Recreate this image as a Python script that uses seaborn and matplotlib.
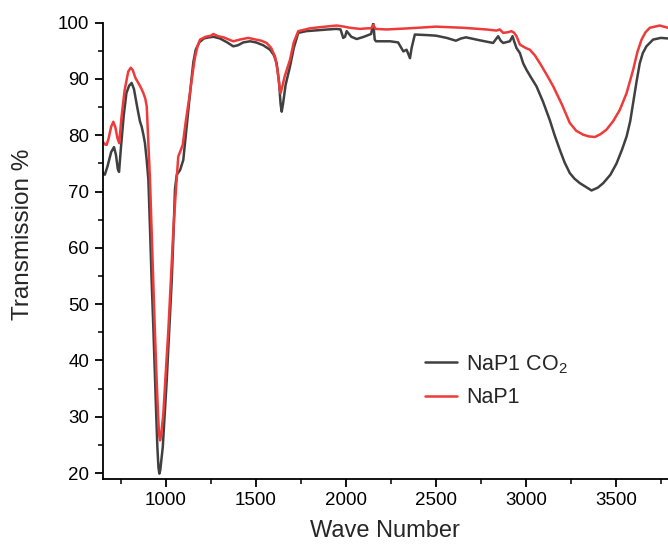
import matplotlib
matplotlib.use("Agg")
import matplotlib.pyplot as plt
from matplotlib.ticker import MultipleLocator
import pandas as pd
import seaborn as sns

# FTIR spectra: wavenumber (cm-1) and transmission (%)
wn_co2 = [650, 660, 675, 695, 711, 722, 732, 739, 750, 765, 780, 795, 809, 822, 840,
          855, 865, 875, 883, 893, 902, 911, 920, 930, 939, 946, 952, 958, 963, 968,
          975, 982, 993, 1004, 1018, 1032, 1041, 1050, 1060, 1078, 1096, 1110, 1124,
          1140, 1152, 1165, 1185, 1210, 1240, 1263, 1300, 1340, 1374, 1400, 1430, 1467,
          1500, 1540, 1578, 1600, 1615, 1628, 1637, 1643, 1650, 1665, 1689, 1710, 1735,
          1780, 1818, 1900, 1948, 1970, 1985, 1995, 2004, 2030, 2060, 2100, 2140, 2152,
          2160, 2167, 2245, 2290, 2319, 2337, 2356, 2365, 2383, 2450, 2500, 2560, 2611,
          2640, 2667, 2740, 2818, 2846, 2860, 2874, 2911, 2926, 2937, 2948, 2967, 2985,
          3004, 3030, 3059, 3095, 3133, 3160, 3189, 3215, 3244, 3270, 3300, 3335, 3365,
          3400, 3430, 3470, 3504, 3535, 3560, 3580, 3596, 3615, 3633, 3650, 3670, 3707,
          3750, 3790]
tr_co2 = [73.3, 73.0, 74.5, 77.0, 77.9, 76.5, 74.0, 73.5, 78.0, 83.5, 87.5, 88.8, 89.3,
          88.2, 85.0, 82.5, 81.5, 80.0, 78.6, 75.5, 72.1, 63.5, 54.3, 45.5, 36.5, 30.0,
          24.6, 21.0, 19.9, 20.5, 22.5, 24.6, 30.5, 36.5, 45.5, 54.3, 62.0, 70.5, 73.0,
          73.8, 75.6, 80.0, 84.5, 89.5, 93.0, 95.2, 96.5, 97.2, 97.4, 97.5, 97.2, 96.5,
          95.8, 96.0, 96.5, 96.7, 96.5, 96.0, 95.2, 94.2, 92.8, 89.5, 85.5, 84.2, 85.5,
          89.0, 92.2, 95.5, 98.2, 98.5, 98.6, 98.8, 98.9, 98.8, 97.3, 97.5, 98.5, 97.5,
          97.1, 97.5, 98.0, 99.9, 97.0, 96.7, 96.7, 96.5, 94.9, 95.2, 93.7, 95.5, 97.9,
          97.8, 97.7, 97.3, 96.8, 97.2, 97.4, 96.9, 96.4, 97.6, 96.8, 96.4, 96.7, 97.6,
          96.5, 95.5, 94.6, 92.8, 91.6, 90.2, 88.7, 86.0, 82.7, 80.0, 77.4, 75.2, 73.3,
          72.3, 71.5, 70.8, 70.2, 70.7, 71.5, 73.0, 75.0, 77.5, 79.8, 82.5, 85.7, 89.5,
          92.8, 94.6, 95.8, 97.0, 97.3, 97.2]

wn_nap1 = [650, 660, 670, 680, 695, 707, 718, 730, 740, 752, 770, 790, 804, 815, 830,
           846, 860, 874, 885, 893, 900, 911, 920, 929, 938, 948, 955, 961, 967, 973,
           985, 999, 1013, 1027, 1041, 1050, 1059, 1068, 1080, 1093, 1110, 1133, 1150,
           1161, 1175, 1189, 1220, 1250, 1263, 1290, 1320, 1350, 1374, 1410, 1457, 1500,
           1530, 1559, 1585, 1606, 1620, 1632, 1637, 1645, 1660, 1689, 1710, 1735, 1800,
           1855, 1948, 1990, 2022, 2078, 2120, 2140, 2152, 2165, 2226, 2350, 2500, 2650,
           2780, 2837, 2855, 2874, 2900, 2920, 2935, 2948, 2967, 3000, 3022, 3050, 3078,
           3115, 3152, 3200, 3244, 3280, 3319, 3350, 3384, 3415, 3448, 3485, 3522, 3560,
           3596, 3620, 3643, 3665, 3689, 3744, 3790]
tr_nap1 = [78.8, 78.4, 78.3, 79.3, 81.5, 82.4, 81.5, 79.5, 78.6, 83.0, 88.0, 91.3, 92.0,
           91.6, 90.2, 89.3, 88.5, 87.5, 86.5, 85.1, 80.0, 72.1, 63.2, 54.3, 45.4, 36.5,
           31.0, 27.0, 25.8, 26.8, 30.5, 38.0, 45.4, 54.3, 63.2, 67.8, 72.1, 76.2, 77.2,
           78.3, 82.5, 87.5, 91.5, 93.8, 95.8, 97.0, 97.5, 97.7, 98.0, 97.6, 97.4, 97.0,
           96.7, 97.0, 97.3, 97.0, 96.8, 96.4, 95.5, 94.0, 91.5, 88.3, 87.5, 88.5, 90.5,
           93.4, 96.5, 98.5, 99.0, 99.2, 99.5, 99.3, 99.1, 98.9, 99.0, 99.0, 99.6, 98.9,
           98.8, 99.0, 99.3, 99.1, 98.8, 98.6, 98.8, 98.2, 98.3, 98.5, 98.2, 97.6, 96.1,
           95.5, 95.2, 94.2, 92.8, 90.8, 88.7, 85.5, 82.2, 80.8, 80.1, 79.8, 79.7, 80.2,
           81.0, 82.5, 84.5, 87.5, 91.6, 94.8, 97.0, 98.3, 99.1, 99.5, 99.1]

labels = ["NaP1 CO$_2$", "NaP1"]
colors = ["#404040", "#ef3a3a"]

df = pd.concat([
    pd.DataFrame({"Wave Number": wn_co2, "Transmission %": tr_co2, "Sample": labels[0]}),
    pd.DataFrame({"Wave Number": wn_nap1, "Transmission %": tr_nap1, "Sample": labels[1]}),
], ignore_index=True)

sns.set_style("ticks")
plt.rcParams["font.family"] = ["Liberation Sans", "DejaVu Sans"]
plt.rcParams["mathtext.default"] = "regular"

fig = plt.figure(figsize=(6.68, 5.47), dpi=100)
ax = fig.add_axes([0.1537, 0.1249, 0.8463, 0.8336])

sns.lineplot(data=df, x="Wave Number", y="Transmission %", hue="Sample",
             palette=dict(zip(labels, colors)), sort=False, estimator=None,
             linewidth=1.8, ax=ax)

ax.set_xlim(648, 3790)
ax.set_ylim(19, 100)
ax.xaxis.set_major_locator(MultipleLocator(500))
ax.xaxis.set_minor_locator(MultipleLocator(250))
ax.yaxis.set_major_locator(MultipleLocator(10))
ax.yaxis.set_minor_locator(MultipleLocator(5))
ax.tick_params(which="major", length=6, width=1.3, labelsize=13.5, direction="out",
               colors="black")
ax.tick_params(which="minor", length=3.5, width=1.3, direction="out")

for side in ["top", "right"]:
    ax.spines[side].set_visible(False)
for side in ["left", "bottom"]:
    ax.spines[side].set_linewidth(1.3)
    ax.spines[side].set_color("black")

ax.set_xlabel("Wave Number", fontsize=17, labelpad=8)
ax.set_ylabel("Transmission %", fontsize=17.5)
ax.yaxis.set_label_coords(-0.121, 0.535)

ax.legend(loc="center left", bbox_to_anchor=(0.570, 0.215), frameon=False,
          fontsize=15.5, handlelength=1.5, handletextpad=0.4, labelspacing=0.55,
          borderpad=0, borderaxespad=0)

fig.savefig("out.png", dpi=100)
